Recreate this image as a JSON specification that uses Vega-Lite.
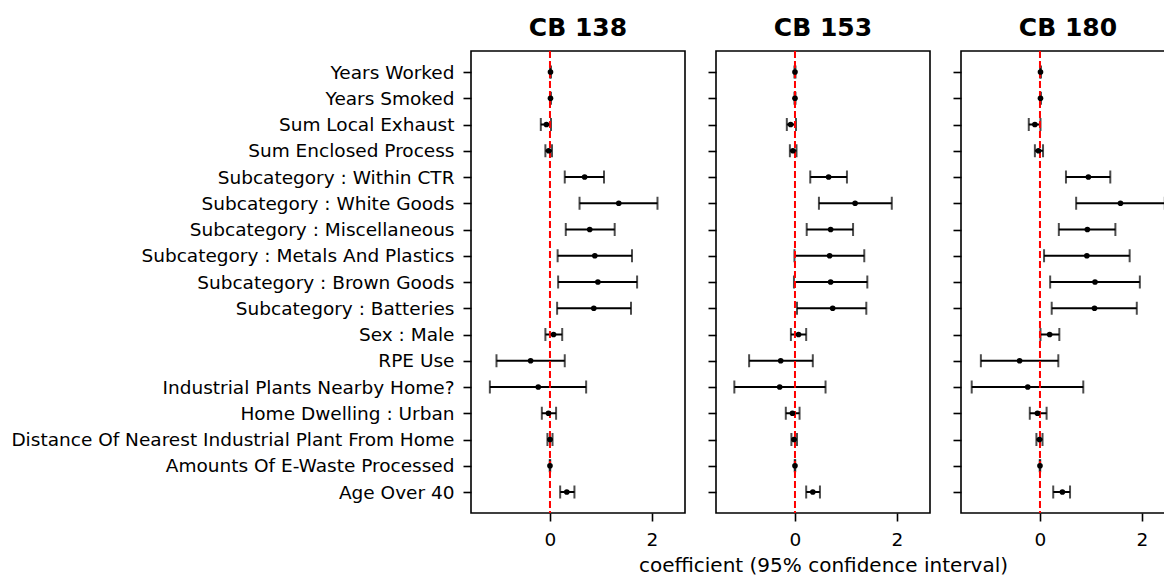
{
  "$schema": "https://vega.github.io/schema/vega-lite/v6.json",
  "padding": {"left": 10, "top": 15, "right": 0, "bottom": 0},
  "background": "white",
  "config": {
    "font": "DejaVu Sans",
    "view": {"stroke": "black", "strokeWidth": 1.6},
    "axis": {"labelColor": "black", "tickColor": "black", "domain": false, "grid": false, "tickSize": 8, "tickWidth": 1.6, "labelFontSize": 18.5, "titleFontSize": 20, "titleFontWeight": "normal", "titleColor": "black"},
    "title": {"fontSize": 25, "fontWeight": "bold", "color": "black", "offset": 9}
  },
  "datasets": {
    "rows": [
      {"panel": "CB 138", "name": "Years Worked", "coef": 0.01, "lo": 0.0, "hi": 0.02},
      {"panel": "CB 138", "name": "Years Smoked", "coef": 0.01, "lo": 0.0, "hi": 0.02},
      {"panel": "CB 138", "name": "Sum Local Exhaust", "coef": -0.07, "lo": -0.18, "hi": 0.02},
      {"panel": "CB 138", "name": "Sum Enclosed Process", "coef": -0.025, "lo": -0.09, "hi": 0.04},
      {"panel": "CB 138", "name": "Subcategory : Within CTR", "coef": 0.68, "lo": 0.29, "hi": 1.06},
      {"panel": "CB 138", "name": "Subcategory : White Goods", "coef": 1.35, "lo": 0.58, "hi": 2.11},
      {"panel": "CB 138", "name": "Subcategory : Miscellaneous", "coef": 0.78, "lo": 0.31, "hi": 1.27},
      {"panel": "CB 138", "name": "Subcategory : Metals And Plastics", "coef": 0.88, "lo": 0.15, "hi": 1.61},
      {"panel": "CB 138", "name": "Subcategory : Brown Goods", "coef": 0.94, "lo": 0.16, "hi": 1.71},
      {"panel": "CB 138", "name": "Subcategory : Batteries", "coef": 0.86, "lo": 0.14, "hi": 1.59},
      {"panel": "CB 138", "name": "Sex : Male", "coef": 0.07, "lo": -0.09, "hi": 0.24},
      {"panel": "CB 138", "name": "RPE Use", "coef": -0.38, "lo": -1.05, "hi": 0.29},
      {"panel": "CB 138", "name": "Industrial Plants Nearby Home?", "coef": -0.23, "lo": -1.18, "hi": 0.71},
      {"panel": "CB 138", "name": "Home Dwelling : Urban", "coef": -0.03, "lo": -0.16, "hi": 0.12},
      {"panel": "CB 138", "name": "Distance Of Nearest Industrial Plant From Home", "coef": 0.0, "lo": -0.05, "hi": 0.05},
      {"panel": "CB 138", "name": "Amounts Of E-Waste Processed", "coef": 0.0, "lo": -0.005, "hi": 0.005},
      {"panel": "CB 138", "name": "Age Over 40", "coef": 0.33, "lo": 0.2, "hi": 0.48},
      {"panel": "CB 153", "name": "Years Worked", "coef": 0.0, "lo": -0.01, "hi": 0.01},
      {"panel": "CB 153", "name": "Years Smoked", "coef": 0.0, "lo": -0.01, "hi": 0.01},
      {"panel": "CB 153", "name": "Sum Local Exhaust", "coef": -0.085, "lo": -0.16, "hi": 0.02},
      {"panel": "CB 153", "name": "Sum Enclosed Process", "coef": -0.04, "lo": -0.1, "hi": 0.03},
      {"panel": "CB 153", "name": "Subcategory : Within CTR", "coef": 0.66, "lo": 0.3, "hi": 1.02},
      {"panel": "CB 153", "name": "Subcategory : White Goods", "coef": 1.18, "lo": 0.47, "hi": 1.9},
      {"panel": "CB 153", "name": "Subcategory : Miscellaneous", "coef": 0.7, "lo": 0.23, "hi": 1.14},
      {"panel": "CB 153", "name": "Subcategory : Metals And Plastics", "coef": 0.68, "lo": -0.01, "hi": 1.36},
      {"panel": "CB 153", "name": "Subcategory : Brown Goods", "coef": 0.7, "lo": -0.02, "hi": 1.42},
      {"panel": "CB 153", "name": "Subcategory : Batteries", "coef": 0.74, "lo": 0.04, "hi": 1.4},
      {"panel": "CB 153", "name": "Sex : Male", "coef": 0.07, "lo": -0.08, "hi": 0.22},
      {"panel": "CB 153", "name": "RPE Use", "coef": -0.28, "lo": -0.9, "hi": 0.35},
      {"panel": "CB 153", "name": "Industrial Plants Nearby Home?", "coef": -0.3, "lo": -1.19, "hi": 0.6},
      {"panel": "CB 153", "name": "Home Dwelling : Urban", "coef": -0.05, "lo": -0.18, "hi": 0.09},
      {"panel": "CB 153", "name": "Distance Of Nearest Industrial Plant From Home", "coef": -0.02, "lo": -0.07, "hi": 0.04},
      {"panel": "CB 153", "name": "Amounts Of E-Waste Processed", "coef": 0.0, "lo": -0.005, "hi": 0.005},
      {"panel": "CB 153", "name": "Age Over 40", "coef": 0.35, "lo": 0.22, "hi": 0.49},
      {"panel": "CB 180", "name": "Years Worked", "coef": 0.01, "lo": 0.0, "hi": 0.02},
      {"panel": "CB 180", "name": "Years Smoked", "coef": 0.01, "lo": 0.0, "hi": 0.02},
      {"panel": "CB 180", "name": "Sum Local Exhaust", "coef": -0.1, "lo": -0.22, "hi": 0.01},
      {"panel": "CB 180", "name": "Sum Enclosed Process", "coef": -0.03, "lo": -0.1, "hi": 0.06},
      {"panel": "CB 180", "name": "Subcategory : Within CTR", "coef": 0.95, "lo": 0.51, "hi": 1.38},
      {"panel": "CB 180", "name": "Subcategory : White Goods", "coef": 1.58, "lo": 0.71, "hi": 2.45},
      {"panel": "CB 180", "name": "Subcategory : Miscellaneous", "coef": 0.93, "lo": 0.37, "hi": 1.48},
      {"panel": "CB 180", "name": "Subcategory : Metals And Plastics", "coef": 0.92, "lo": 0.08, "hi": 1.76},
      {"panel": "CB 180", "name": "Subcategory : Brown Goods", "coef": 1.08, "lo": 0.2, "hi": 1.96},
      {"panel": "CB 180", "name": "Subcategory : Batteries", "coef": 1.07, "lo": 0.23, "hi": 1.9},
      {"panel": "CB 180", "name": "Sex : Male", "coef": 0.19, "lo": 0.01, "hi": 0.38},
      {"panel": "CB 180", "name": "RPE Use", "coef": -0.4, "lo": -1.16, "hi": 0.36},
      {"panel": "CB 180", "name": "Industrial Plants Nearby Home?", "coef": -0.24, "lo": -1.34, "hi": 0.85},
      {"panel": "CB 180", "name": "Home Dwelling : Urban", "coef": -0.05, "lo": -0.2, "hi": 0.13},
      {"panel": "CB 180", "name": "Distance Of Nearest Industrial Plant From Home", "coef": -0.01, "lo": -0.07, "hi": 0.05},
      {"panel": "CB 180", "name": "Amounts Of E-Waste Processed", "coef": 0.0, "lo": -0.005, "hi": 0.005},
      {"panel": "CB 180", "name": "Age Over 40", "coef": 0.44, "lo": 0.26, "hi": 0.59}
    ]
  },
  "spacing": 31,
  "bounds": "flush",
  "hconcat": [
    {
      "width": 214, "height": 462,
      "title": "CB 138",
      "data": {"name": "rows"},
      "transform": [{"filter": "datum.panel === 'CB 138'"}],
      "encoding": {
        "y": {"field": "name", "type": "nominal", "title": null,
          "scale": {"type": "point", "padding": 0.8, "domain": ["Years Worked", "Years Smoked", "Sum Local Exhaust", "Sum Enclosed Process", "Subcategory : Within CTR", "Subcategory : White Goods", "Subcategory : Miscellaneous", "Subcategory : Metals And Plastics", "Subcategory : Brown Goods", "Subcategory : Batteries", "Sex : Male", "RPE Use", "Industrial Plants Nearby Home?", "Home Dwelling : Urban", "Distance Of Nearest Industrial Plant From Home", "Amounts Of E-Waste Processed", "Age Over 40"]},
          "axis": {"labelPadding": 9, "labelLimit": 700}}
      },
      "layer": [
        {"mark": {"type": "rule", "color": "black", "strokeWidth": 2},
         "encoding": {"x": {"field": "lo", "type": "quantitative", "scale": {"domain": [-1.55, 2.65], "nice": false, "zero": false}, "axis": {"values": [0, 2], "format": "d", "labelPadding": 9, "title": null}}, "x2": {"field": "hi"}}},
        {"mark": {"type": "tick", "color": "black", "orient": "vertical", "size": 13, "thickness": 2}, "encoding": {"x": {"field": "lo", "type": "quantitative"}}},
        {"mark": {"type": "tick", "color": "black", "orient": "vertical", "size": 13, "thickness": 2}, "encoding": {"x": {"field": "hi", "type": "quantitative"}}},
        {"data": {"values": [{}]}, "mark": {"type": "rule", "color": "#ff0000", "strokeWidth": 2, "strokeDash": [7, 3]}, "encoding": {"x": {"datum": 0}, "y": null}},
        {"mark": {"type": "point", "filled": true, "color": "black", "size": 32, "opacity": 1}, "encoding": {"x": {"field": "coef", "type": "quantitative"}}}
      ]
    },
    {
      "width": 214, "height": 462,
      "title": "CB 153",
      "data": {"name": "rows"},
      "transform": [{"filter": "datum.panel === 'CB 153'"}],
      "encoding": {
        "y": {"field": "name", "type": "nominal", "title": null,
          "scale": {"type": "point", "padding": 0.8, "domain": ["Years Worked", "Years Smoked", "Sum Local Exhaust", "Sum Enclosed Process", "Subcategory : Within CTR", "Subcategory : White Goods", "Subcategory : Miscellaneous", "Subcategory : Metals And Plastics", "Subcategory : Brown Goods", "Subcategory : Batteries", "Sex : Male", "RPE Use", "Industrial Plants Nearby Home?", "Home Dwelling : Urban", "Distance Of Nearest Industrial Plant From Home", "Amounts Of E-Waste Processed", "Age Over 40"]},
          "axis": {"labels": false}}
      },
      "layer": [
        {"mark": {"type": "rule", "color": "black", "strokeWidth": 2},
         "encoding": {"x": {"field": "lo", "type": "quantitative", "scale": {"domain": [-1.55, 2.65], "nice": false, "zero": false}, "axis": {"values": [0, 2], "format": "d", "labelPadding": 9, "title": "coefficient (95% confidence interval)", "titlePadding": 7}}, "x2": {"field": "hi"}}},
        {"mark": {"type": "tick", "color": "black", "orient": "vertical", "size": 13, "thickness": 2}, "encoding": {"x": {"field": "lo", "type": "quantitative"}}},
        {"mark": {"type": "tick", "color": "black", "orient": "vertical", "size": 13, "thickness": 2}, "encoding": {"x": {"field": "hi", "type": "quantitative"}}},
        {"data": {"values": [{}]}, "mark": {"type": "rule", "color": "#ff0000", "strokeWidth": 2, "strokeDash": [7, 3]}, "encoding": {"x": {"datum": 0}, "y": null}},
        {"mark": {"type": "point", "filled": true, "color": "black", "size": 32, "opacity": 1}, "encoding": {"x": {"field": "coef", "type": "quantitative"}}}
      ]
    },
    {
      "width": 214, "height": 462,
      "title": "CB 180",
      "data": {"name": "rows"},
      "transform": [{"filter": "datum.panel === 'CB 180'"}],
      "encoding": {
        "y": {"field": "name", "type": "nominal", "title": null,
          "scale": {"type": "point", "padding": 0.8, "domain": ["Years Worked", "Years Smoked", "Sum Local Exhaust", "Sum Enclosed Process", "Subcategory : Within CTR", "Subcategory : White Goods", "Subcategory : Miscellaneous", "Subcategory : Metals And Plastics", "Subcategory : Brown Goods", "Subcategory : Batteries", "Sex : Male", "RPE Use", "Industrial Plants Nearby Home?", "Home Dwelling : Urban", "Distance Of Nearest Industrial Plant From Home", "Amounts Of E-Waste Processed", "Age Over 40"]},
          "axis": {"labels": false}}
      },
      "layer": [
        {"mark": {"type": "rule", "color": "black", "strokeWidth": 2},
         "encoding": {"x": {"field": "lo", "type": "quantitative", "scale": {"domain": [-1.55, 2.65], "nice": false, "zero": false}, "axis": {"values": [0, 2], "format": "d", "labelPadding": 9, "title": null}}, "x2": {"field": "hi"}}},
        {"mark": {"type": "tick", "color": "black", "orient": "vertical", "size": 13, "thickness": 2}, "encoding": {"x": {"field": "lo", "type": "quantitative"}}},
        {"mark": {"type": "tick", "color": "black", "orient": "vertical", "size": 13, "thickness": 2}, "encoding": {"x": {"field": "hi", "type": "quantitative"}}},
        {"data": {"values": [{}]}, "mark": {"type": "rule", "color": "#ff0000", "strokeWidth": 2, "strokeDash": [7, 3]}, "encoding": {"x": {"datum": 0}, "y": null}},
        {"mark": {"type": "point", "filled": true, "color": "black", "size": 32, "opacity": 1}, "encoding": {"x": {"field": "coef", "type": "quantitative"}}}
      ]
    }
  ]
}
